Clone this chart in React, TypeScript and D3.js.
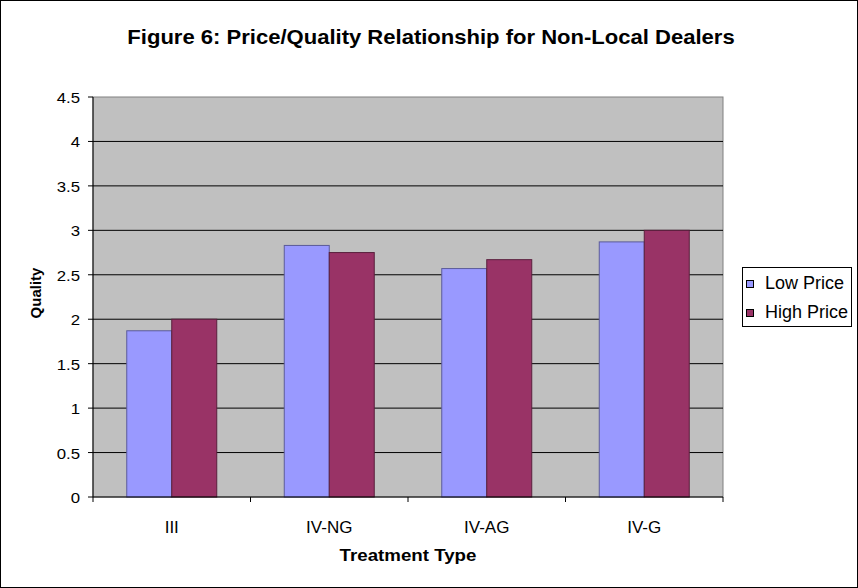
import React from "react";
import { scaleBand, scaleLinear } from "d3";

const categories = ["III", "IV-NG", "IV-AG", "IV-G"];
const seriesNames = ["Low Price", "High Price"];
const lowPrice = [1.87, 2.83, 2.57, 2.87];
const highPrice = [2.0, 2.75, 2.67, 3.0];
const yTicks = [0, 0.5, 1, 1.5, 2, 2.5, 3, 3.5, 4, 4.5];

const colors = ["#9999FF", "#993366"];
const strokes = ["#5c5c99", "#5a1f3d"];

// text stretched a little in x, the way the original was
function SText(props: any) {
  const { x, y, sx = 1, children, ...rest } = props;
  return (
    <text transform={`translate(${x},${y}) scale(${sx},1)`} {...rest}>
      {children}
    </text>
  );
}

export default function App() {
  const W = 858;
  const H = 588;
  const plot = { left: 93, right: 723, top: 97, bottom: 497 };

  const x = scaleBand<string>()
    .domain(categories)
    .range([plot.left, plot.right]);
  const inner = scaleBand<string>()
    .domain(seriesNames)
    .range([0, x.bandwidth()])
    .paddingOuter(0.75)
    .paddingInner(0);
  const y = scaleLinear().domain([0, 4.5]).range([plot.bottom, plot.top]);

  const series = [lowPrice, highPrice];
  const font = "Arial, 'Liberation Sans', sans-serif";

  return (
    <svg
      width={W}
      height={H}
      style={{ position: "fixed", left: 0, top: 0 }}
      fontFamily={font}
    >
      <rect x={0.5} y={0.5} width={W - 1} height={H - 1} fill="white" stroke="#000" />
      <SText x={431} y={44} sx={1.05} textAnchor="middle" fontSize="21px" fontWeight="bold">
        Figure 6: Price/Quality Relationship for Non-Local Dealers
      </SText>

      {/* plot area */}
      <rect
        x={plot.left}
        y={plot.top}
        width={plot.right - plot.left}
        height={plot.bottom - plot.top}
        fill="#C0C0C0"
        stroke="#808080"
      />
      {yTicks.slice(1, -1).map((t) => (
        <line key={t} x1={plot.left} x2={plot.right} y1={y(t)} y2={y(t)} stroke="#000" />
      ))}

      {/* bars */}
      {categories.map((c, i) => (
        <g key={c}>
          {series.map((s, j) => (
            <rect
              key={j}
              x={x(c)! + inner(seriesNames[j])!}
              y={y(s[i])}
              width={inner.bandwidth()}
              height={y(0) - y(s[i])}
              fill={colors[j]}
              stroke={strokes[j]}
            />
          ))}
        </g>
      ))}

      {/* axes */}
      <line x1={plot.left} x2={plot.left} y1={plot.top} y2={plot.bottom} stroke="#000" />
      <line x1={plot.left} x2={plot.right} y1={plot.bottom} y2={plot.bottom} stroke="#000" />
      {yTicks.map((t) => (
        <g key={t}>
          <line x1={plot.left - 5} x2={plot.left} y1={y(t)} y2={y(t)} stroke="#000" />
          <SText x={80} y={y(t) + 6} sx={1.12} textAnchor="end" fontSize="15px">
            {t}
          </SText>
        </g>
      ))}
      {[...categories.map((c) => x(c)!), plot.right].map((v, i) => (
        <line key={i} x1={v} x2={v} y1={plot.bottom} y2={plot.bottom + 5} stroke="#000" />
      ))}
      {categories.map((c) => (
        <SText
          key={c}
          x={x(c)! + x.bandwidth() / 2}
          y={533}
          textAnchor="middle"
          fontSize="17px"
        >
          {c}
        </SText>
      ))}

      <SText x={408} y={561} sx={1.1} textAnchor="middle" fontSize="17px" fontWeight="bold">
        Treatment Type
      </SText>
      <text
        transform={`translate(41, ${(plot.top + plot.bottom) / 2 - 4}) rotate(-90)`}
        textAnchor="middle"
        fontSize="15px"
        fontWeight="bold"
      >
        Quality
      </text>

      {/* legend */}
      <rect x={742.5} y={267.5} width={109} height={59} fill="white" stroke="#000" />
      {seriesNames.map((n, j) => (
        <g key={n}>
          <rect
            x={746.5}
            y={280.5 + j * 29}
            width={7}
            height={7}
            fill={colors[j]}
            stroke="#000"
          />
          <text x={765} y={289 + j * 29} fontSize="18px">
            {n}
          </text>
        </g>
      ))}
    </svg>
  );
}
